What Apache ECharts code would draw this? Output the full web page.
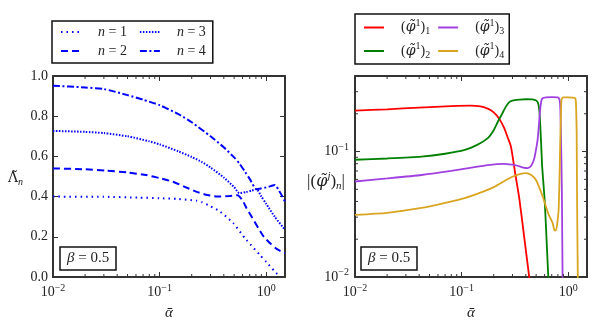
<!DOCTYPE html>
<html><head><meta charset="utf-8">
<script src="https://cdn.jsdelivr.net/npm/echarts@6/dist/echarts.min.js"></script>
<style>html,body{margin:0;padding:0;background:#fff}#c{width:607px;height:329px}</style>
</head><body><div id="c"></div>
<script>
// ---------- data (left panel: Lambda_n vs alpha) ----------
const n1Alpha = [0.01,0.03,0.063,0.1,0.15,0.22,0.25,0.3,0.37,0.49,0.65,0.87,1.0,1.2,1.36];
const n1Val   = [0.400,0.399,0.395,0.392,0.388,0.380,0.372,0.352,0.325,0.268,0.185,0.110,0.075,0.028,0.0];
const n2Alpha = [0.01,0.02,0.0316,0.05,0.075,0.1,0.133,0.17,0.22,0.28,0.35,0.45,0.54,0.6,0.65,0.73,0.85,0.95,1.1,1.25,1.5];
const n2Val   = [0.540,0.536,0.529,0.520,0.507,0.492,0.474,0.450,0.425,0.408,0.400,0.403,0.407,0.380,0.345,0.300,0.240,0.200,0.165,0.140,0.118];
const n3Alpha = [0.01,0.02,0.03,0.05,0.08,0.1,0.15,0.2,0.25,0.3,0.4,0.5,0.56,0.65,0.73,0.81,0.9,1.0,1.2,1.5];
const n3Val   = [0.727,0.722,0.716,0.700,0.675,0.660,0.625,0.597,0.572,0.545,0.495,0.447,0.417,0.423,0.430,0.437,0.400,0.364,0.300,0.235];
const n4Alpha = [0.01,0.02,0.03,0.05,0.07,0.1,0.15,0.2,0.3,0.4,0.5,0.56,0.63,0.7,0.81,0.9,1.0,1.1,1.2,1.35,1.5];
const n4Val   = [0.952,0.943,0.935,0.905,0.882,0.855,0.810,0.770,0.700,0.645,0.595,0.565,0.525,0.488,0.437,0.441,0.446,0.452,0.458,0.420,0.375];

// ---------- data (right panel: |(phi^j)_n| vs alpha) ----------
const p1Alpha = [0.01,0.02,0.04,0.08,0.12,0.15,0.18,0.2,0.226,0.25,0.27,0.29,0.32,0.348,0.38,0.43,0.46];
const p1Val   = [0.212,0.217,0.224,0.230,0.232,0.229,0.218,0.205,0.182,0.155,0.130,0.110,0.065,0.042,0.0233,0.0101,0.0068];
const p2Alpha = [0.01,0.02,0.042,0.07,0.107,0.14,0.176,0.2,0.218,0.24,0.26,0.28,0.3,0.35,0.4,0.46,0.5,0.52,0.535,0.545,0.556,0.57,0.6,0.62,0.65,0.68];
const p2Val   = [0.086,0.088,0.091,0.096,0.103,0.113,0.128,0.148,0.172,0.200,0.228,0.248,0.255,0.259,0.261,0.260,0.255,0.245,0.215,0.170,0.120,0.075,0.042,0.024,0.0101,0.005];
const p3Alpha = [0.01,0.02,0.042,0.08,0.12,0.176,0.25,0.325,0.38,0.416,0.45,0.48,0.5,0.516,0.53,0.545,0.56,0.575,0.62,0.7,0.8,0.825,0.84,0.85,0.862,0.873,0.885,0.9];
const p3Val   = [0.0577,0.061,0.065,0.070,0.074,0.078,0.0797,0.0775,0.0745,0.0738,0.077,0.088,0.105,0.124,0.160,0.215,0.255,0.266,0.270,0.271,0.270,0.262,0.235,0.170,0.090,0.044,0.0101,0.005];
const p4Alpha = [0.01,0.02,0.042,0.07,0.107,0.15,0.2,0.25,0.3,0.35,0.4,0.45,0.5,0.575,0.65,0.714,0.745,0.768,0.79,0.812,0.826,0.84,0.855,0.866,0.9,1.0,1.1,1.17,1.19,1.2,1.21,1.23,1.25];
const p4Val   = [0.0313,0.0325,0.0355,0.039,0.0426,0.047,0.052,0.058,0.063,0.066,0.0673,0.065,0.059,0.044,0.032,0.0269,0.0235,0.0235,0.027,0.034,0.055,0.110,0.200,0.262,0.270,0.270,0.269,0.265,0.200,0.140,0.044,0.0101,0.005];

// ---------- labels / ticks ----------
const leftNames  = ['n = 1','n = 2','n = 3','n = 4'];
const rightNames = ['phi1','phi2','phi3','phi4'];
const xMinorTicks = [0.02,0.03,0.04,0.05,0.06,0.07,0.08,0.09,0.2,0.3,0.4,0.5,0.6,0.7,0.8,0.9];
const yMinorTicksRight = [0.02,0.03,0.04,0.05,0.06,0.07,0.08,0.09,0.2,0.3];

const pairs = (xs, ys) => xs.map((x, i) => [x, ys[i]]);
const FONT = 'Liberation Serif';
const GFONT = 'DejaVu Serif';
const TXT = '#222';
const FRAME = '#333';
const NB = '\u00a0';

function powFmt(v) {
  const e = Math.log10(v);
  const r = Math.round(e);
  if (Math.abs(e - r) > 1e-6) return '';
  return '10{s|' + (r < 0 ? '−' + (-r) : r) + '}';
}
const powRich = {
  s: {fontFamily: FONT, fontSize: 10, color: TXT, padding: [0, 0, 9, 0]}
};

function logX(grid, pos, show) {
  return {
    type: 'log', logBase: 10, gridIndex: grid, position: pos, min: 0.01, max: 1.5,
    axisLine: {show: true, onZero: false, lineStyle: {color: FRAME, width: 2}},
    axisTick: {show: true, inside: true, length: 5, lineStyle: {color: FRAME, width: 1}},
    axisLabel: {show: show, margin: 6, formatter: powFmt, color: TXT, fontFamily: FONT, fontSize: 14, rich: powRich},
    splitLine: {show: false},
    name: show ? 'ᾱ' : '', nameLocation: 'middle', nameGap: 29, nameMoveOverlap: false,
    nameTextStyle: {fontFamily: FONT, fontSize: 15, color: TXT, fontStyle: 'italic'}
  };
}

const option = {
  animation: false,
  backgroundColor: '#fff',
  grid: [
    {left: 53, top: 76, width: 232, height: 201},
    {left: 355, top: 76, width: 232, height: 201}
  ],
  xAxis: [logX(0, 'bottom', true), logX(0, 'top', false), logX(1, 'bottom', true), logX(1, 'top', false)],
  yAxis: [
    {type: 'value', gridIndex: 0, position: 'left', min: 0, max: 1, interval: 0.2,
     axisLine: {show: true, onZero: false, lineStyle: {color: FRAME, width: 2}},
     axisTick: {show: true, inside: true, length: 5, lineStyle: {color: FRAME, width: 1}},
     axisLabel: {margin: 5, formatter: v => v.toFixed(1), color: TXT, fontFamily: FONT, fontSize: 14},
     splitLine: {show: false},
     name: '{a|Λ̃}{n|n}', nameLocation: 'middle', nameRotate: 0, nameGap: 30, nameMoveOverlap: false,
     nameTextStyle: {fontFamily: FONT, fontSize: 15, color: TXT, padding: [4, 0, 0, 0],
       rich: {a: {fontFamily: GFONT, fontSize: 14, color: TXT},
              n: {fontFamily: FONT, fontSize: 10, fontStyle: 'italic', color: TXT, padding: [8, 0, 0, 0]}}}},
    {type: 'value', gridIndex: 0, position: 'right', min: 0, max: 1, interval: 0.2,
     axisLine: {show: true, onZero: false, lineStyle: {color: FRAME, width: 2}},
     axisTick: {show: true, inside: true, length: 5, lineStyle: {color: FRAME, width: 1}},
     axisLabel: {show: false}, splitLine: {show: false}},
    {type: 'log', logBase: 10, gridIndex: 1, position: 'left', min: 0.01, max: 0.4,
     axisLine: {show: true, onZero: false, lineStyle: {color: FRAME, width: 2}},
     axisTick: {show: true, inside: true, length: 5, lineStyle: {color: FRAME, width: 1}},
     axisLabel: {margin: 6, formatter: powFmt, color: TXT, fontFamily: FONT, fontSize: 14, rich: powRich},
     splitLine: {show: false},
     name: '|({p|φ̃}{j|j}){n|n}|', nameLocation: 'middle', nameRotate: 0, nameGap: 10, nameMoveOverlap: false,
     nameTextStyle: {fontFamily: FONT, fontSize: 17, color: TXT, padding: [10, 0, 0, 0],
       rich: {p: {fontFamily: GFONT, fontSize: 16, fontStyle: 'italic', color: TXT},
              j: {fontFamily: FONT, fontSize: 11, fontStyle: 'italic', color: TXT, padding: [0, 0, 10, 0]},
              n: {fontFamily: FONT, fontSize: 11, fontStyle: 'italic', color: TXT, padding: [9, 0, 0, 0]}}}},
    {type: 'log', logBase: 10, gridIndex: 1, position: 'right', min: 0.01, max: 0.4,
     axisLine: {show: true, onZero: false, lineStyle: {color: FRAME, width: 2}},
     axisTick: {show: true, inside: true, length: 5, lineStyle: {color: FRAME, width: 1}},
     axisLabel: {show: false}, splitLine: {show: false}}
  ],
  legend: [
    {data: [leftNames[0], leftNames[2], leftNames[1], leftNames[3]], left: 52, top: 21, width: 170,
     itemWidth: 20, itemHeight: 14, itemGap: 5, selectedMode: false,
     padding: [4, 0, 5, 8], borderColor: '#111', borderWidth: 1.5,
     itemStyle: {opacity: 0, borderWidth: 0},
     formatter: nm => '{i|n}' + nm.slice(1) + '{g|' + NB + NB + '}',
     textStyle: {fontFamily: FONT, fontSize: 14, color: TXT, padding: [0, 0, 0, 12],
       rich: {i: {fontFamily: FONT, fontSize: 14, fontStyle: 'italic', color: TXT},
              g: {fontFamily: FONT, fontSize: 14, color: TXT}}}},
    {data: [rightNames[0], rightNames[2], rightNames[1], rightNames[3]], left: 355, top: 14, width: 170,
     itemWidth: 20, itemHeight: 14, itemGap: 5, selectedMode: false,
     padding: [4, 3, 4, 8], borderColor: '#111', borderWidth: 1.5,
     itemStyle: {opacity: 0, borderWidth: 0},
     formatter: nm => '({p|φ̃}{s|1}){b|' + nm.slice(3) + '}{g|' + NB + '}',
     textStyle: {fontFamily: FONT, fontSize: 14, color: TXT, padding: [0, 0, 0, 12],
       rich: {p: {fontFamily: GFONT, fontSize: 14, fontStyle: 'italic', color: TXT},
              s: {fontFamily: FONT, fontSize: 10, color: TXT, padding: [0, 0, 9, 0]},
              b: {fontFamily: FONT, fontSize: 10, color: TXT, padding: [8, 0, 0, 0]},
              g: {fontFamily: FONT, fontSize: 8, color: TXT}}}}
  ],
  title: [
    {text: '{b|β} = 0.5', left: 60, top: 247, padding: [4, 7, 4, 7], borderColor: '#111', borderWidth: 1.5,
     textStyle: {fontFamily: FONT, fontSize: 15, fontWeight: 'normal', color: TXT,
       rich: {b: {fontFamily: FONT, fontSize: 15, fontStyle: 'italic', color: TXT}}}},
    {text: '{b|β} = 0.5', left: 361, top: 247, padding: [4, 7, 4, 7], borderColor: '#111', borderWidth: 1.5,
     textStyle: {fontFamily: FONT, fontSize: 15, fontWeight: 'normal', color: TXT,
       rich: {b: {fontFamily: FONT, fontSize: 15, fontStyle: 'italic', color: TXT}}}}
  ],
  series: []
};

const blue = '#0000ff';
const leftStyles = [[1.5, 4], [7, 4], [1.5, 1.5], [7, 2.5, 2, 2.5]];
const leftData = [[n1Alpha, n1Val], [n2Alpha, n2Val], [n3Alpha, n3Val], [n4Alpha, n4Val]];
leftData.forEach((d, i) => {
  option.series.push({type: 'line', name: leftNames[i], xAxisIndex: 0, yAxisIndex: 0,
    data: pairs(d[0], d[1]), showSymbol: false, symbol: 'none', smooth: 0.2,
    lineStyle: {color: blue, width: 2, type: leftStyles[i]}, itemStyle: {color: blue}});
});
const rightColors = ['#ff0000', '#008000', '#a040e0', '#daa520'];
const rightData = [[p1Alpha, p1Val], [p2Alpha, p2Val], [p3Alpha, p3Val], [p4Alpha, p4Val]];
rightData.forEach((d, i) => {
  option.series.push({type: 'line', name: rightNames[i], xAxisIndex: 2, yAxisIndex: 2,
    data: pairs(d[0], d[1]), showSymbol: false, symbol: 'none', smooth: 0.2, clip: true,
    lineStyle: {color: rightColors[i], width: 1.8, type: 'solid'}, itemStyle: {color: rightColors[i]}});
});

function tickSeries(xIdx, yIdx, refX, refY, xs, ys) {
  return {type: 'custom', xAxisIndex: xIdx, yAxisIndex: yIdx, silent: true, clip: false, z: 5,
    data: [[refX, refY]],
    renderItem(params, api) {
      const cs = params.coordSys; const ch = []; const L = 3;
      const st = {stroke: FRAME, lineWidth: 1};
      xs.forEach(v => {
        const p = api.coord([v, refY])[0];
        ch.push({type: 'line', shape: {x1: p, y1: cs.y + cs.height, x2: p, y2: cs.y + cs.height - L}, style: st});
        ch.push({type: 'line', shape: {x1: p, y1: cs.y, x2: p, y2: cs.y + L}, style: st});
      });
      ys.forEach(v => {
        const p = api.coord([refX, v])[1];
        ch.push({type: 'line', shape: {x1: cs.x, y1: p, x2: cs.x + L, y2: p}, style: st});
        ch.push({type: 'line', shape: {x1: cs.x + cs.width, y1: p, x2: cs.x + cs.width - L, y2: p}, style: st});
      });
      return {type: 'group', children: ch};
    }};
}
option.series.push(tickSeries(0, 0, 0.1, 0.5, xMinorTicks, []));
option.series.push(tickSeries(2, 2, 0.1, 0.1, xMinorTicks, yMinorTicksRight));

const chart = echarts.init(document.getElementById('c'), null, {renderer: 'canvas'});
chart.setOption(option);
</script></body></html>
